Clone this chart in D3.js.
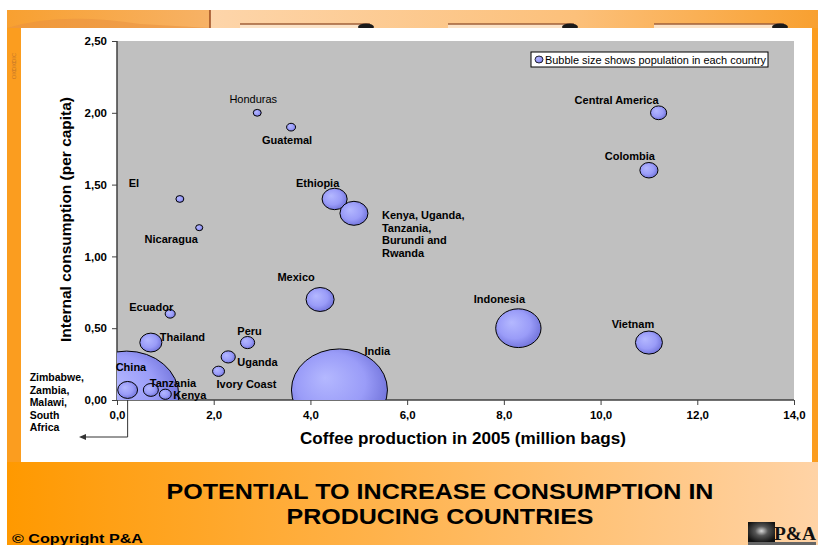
<!DOCTYPE html>
<html><head><meta charset="utf-8">
<script src="https://cdn.jsdelivr.net/npm/d3@7/dist/d3.min.js"></script>
<style>html,body{margin:0;padding:0;background:#fff;}svg{display:block;}</style>
</head><body>
<script>
// ---- DATA ----
const countries = ["Honduras","Guatemala","Central America","Colombia","El Salvador","Nicaragua","Ethiopia","Kenya, Uganda, Tanzania, Burundi and Rwanda","Mexico","Indonesia","Vietnam","Ecuador","Thailand","Peru","Uganda","Ivory Coast","India","China","Zimbabwe, Zambia, Malawi, South Africa","Tanzania","Kenya"];
const labels = ["Honduras","Guatemal","Central America","Colombia","El","Nicaragua","Ethiopia","Kenya, Uganda,|Tanzania,|Burundi and|Rwanda","Mexico","Indonesia","Vietnam","Ecuador","Thailand","Peru","Uganda","Ivory Coast","India","China","Zimbabwe,|Zambia,|Malawi,|South|Africa","Tanzania","Kenya"];
const production = [2.9,3.6,11.2,11.0,1.3,1.7,4.5,4.9,4.2,8.3,11.0,1.1,0.7,2.7,2.3,2.1,4.6,0.2,0.22,0.7,1.0];
const consumption = [2.0,1.9,2.0,1.6,1.4,1.2,1.4,1.3,0.7,0.5,0.4,0.6,0.4,0.4,0.3,0.2,0.07,0.03,0.07,0.07,0.04];
const population = [7.6,9.7,31,39,7.5,6,75,94,94,245,87,12,58,24,24,17,1100,1300,47,27,17];
const xTicks = [0,2,4,6,8,10,12,14];
const yTicks = [0,0.5,1,1.5,2,2.5];
const title = ["POTENTIAL TO INCREASE CONSUMPTION IN","PRODUCING COUNTRIES"];
const legendText = "Bubble size shows population in each country";
const xTitle = "Coffee production in 2005 (million bags)";
const yTitle = "Internal consumption  (per capita)";

// ---- LAYOUT (label placement relative to bubble centre) ----
const labelLayout = {
  "Honduras":[ -4,-10,"middle",false],
  "Guatemala":[-4,17,"middle",true],
  "Central America":[-42,-9,"middle",true],
  "Colombia":[-19,-10,"middle",true],
  "El Salvador":[-46,-12,"middle",true],
  "Nicaragua":[-28,15,"middle",true],
  "Ethiopia":[-17,-12,"middle",true],
  "Kenya, Uganda, Tanzania, Burundi and Rwanda":[28,6,"start",true],
  "Mexico":[-24,-18,"middle",true],
  "Indonesia":[-19,-25,"middle",true],
  "Vietnam":[-16,-15,"middle",true],
  "Ecuador":[-19,-3,"middle",true],
  "Thailand":[9,-2,"start",true],
  "Peru":[2,-8,"middle",true],
  "Uganda":[9,9,"start",true],
  "Ivory Coast":[-2,17,"start",true],
  "India":[25,-35,"start",true],
  "China":[-11,-25,"start",true],
  "Tanzania":[-1,-3,"start",true],
  "Kenya":[8,5,"start",true]
};

const W=818,H=545;
const svg=d3.select("body").append("svg").attr("width",W).attr("height",H)
  .style("font-family","'Liberation Sans', Arial, sans-serif");
const defs=svg.append("defs");

// background gradients
const gBot=defs.append("linearGradient").attr("id","gBot").attr("x1","0").attr("x2","1");
gBot.append("stop").attr("offset","0").attr("stop-color","#FF9900");
gBot.append("stop").attr("offset","0.45").attr("stop-color","#FFB24A");
gBot.append("stop").attr("offset","1").attr("stop-color","#FFD3A6");
const gTop=defs.append("linearGradient").attr("id","gTop").attr("x1","0").attr("x2","1");
gTop.append("stop").attr("offset","0").attr("stop-color","#FDD5AA");
gTop.append("stop").attr("offset","0.6").attr("stop-color","#FCC07A");
gTop.append("stop").attr("offset","1").attr("stop-color","#F8A030");
const gTL=defs.append("linearGradient").attr("id","gTL").attr("x1","0").attr("x2","1");
gTL.append("stop").attr("offset","0").attr("stop-color","#F8A030");
gTL.append("stop").attr("offset","1").attr("stop-color","#F7B266");

// bubble gradient
const bg=defs.append("radialGradient").attr("id","bub").attr("cx","0.45").attr("cy","0.45").attr("r","0.6").attr("fx","0.35").attr("fy","0.35");
bg.append("stop").attr("offset","0").attr("stop-color","#B4B8FF");
bg.append("stop").attr("offset","0.6").attr("stop-color","#9A9CF8");
bg.append("stop").attr("offset","1").attr("stop-color","#6E70D8");

// background
svg.append("rect").attr("x",7).attr("y",10).attr("width",W-7).attr("height",H-10).attr("fill","#FB9D1F");
svg.append("rect").attr("x",7).attr("y",10).attr("width",203).attr("height",18).attr("fill","url(#gTL)");
svg.append("path").attr("d","M7,28 Q60,12 140,24 L210,28 Z").attr("fill","#E89040").attr("opacity",0.5);
svg.append("rect").attr("x",210).attr("y",10).attr("width",W-210).attr("height",18).attr("fill","url(#gTop)");
svg.append("line").attr("x1",210).attr("x2",210).attr("y1",10).attr("y2",28).attr("stroke","#9A4A20").attr("stroke-width",1.5);
[[240,370],[448,574],[654,784]].forEach(t=>{
  svg.append("rect").attr("x",t[0]).attr("y",24).attr("width",t[1]-t[0]).attr("height",4).attr("fill","#FBE3C8");
  svg.append("line").attr("x1",t[0]).attr("x2",t[1]).attr("y1",24).attr("y2",24).attr("stroke","#A0603A").attr("stroke-width",1.5);
  svg.append("ellipse").attr("cx",t[1]-4).attr("cy",27).attr("rx",8).attr("ry",3.5).attr("fill","#1a1a1a");
});
svg.append("rect").attr("x",7).attr("y",462).attr("width",W-7).attr("height",H-462).attr("fill","url(#gBot)");
// faint side marks
[58,66,74].forEach(yy=>svg.append("text").attr("transform",`translate(16,${yy}) rotate(-90)`).attr("font-size",6).attr("fill","#C8782A").attr("text-anchor","middle").text("OIC"));

// white panel
svg.append("rect").attr("x",21).attr("y",28).attr("width",791).attr("height",434).attr("fill","#fff");

// scales
const x=d3.scaleLinear().domain([0,14]).range([117,794]);
const y=d3.scaleLinear().domain([0,2.5]).range([400,41]);
const r=d3.scaleSqrt().domain([0,1300]).range([0,44.6]);
const stretch=1.17;
const loc=d3.formatLocale({decimal:",",thousands:".",grouping:[3],currency:["",""]});

// plot area
svg.append("rect").attr("x",x(0)).attr("y",y(2.5)).attr("width",x(14)-x(0)).attr("height",y(0)-y(2.5)).attr("fill","#C0C0C0");
defs.append("clipPath").attr("id","clip").append("rect").attr("x",x(0)).attr("y",y(2.5)).attr("width",x(14)-x(0)).attr("height",y(0)-y(2.5));

// axes
const ax=svg.append("g").attr("transform",`translate(0,${y(0)})`).call(d3.axisBottom(x).tickValues(xTicks).tickSize(5).tickPadding(6).tickFormat(loc.format(".1f")));
const ay=svg.append("g").attr("transform",`translate(${x(0)},0)`).call(d3.axisLeft(y).tickValues(yTicks).tickSize(5).tickPadding(5).tickFormat(loc.format(".2f")));
[ax,ay].forEach(a=>{
  a.select(".domain").attr("stroke","#404040").attr("stroke-width",1.5);
  a.selectAll(".tick line").attr("stroke","#404040");
  a.selectAll(".tick text").attr("font-size",11.5).attr("font-weight","bold").attr("fill","#000").style("font-family","'Liberation Sans', Arial, sans-serif");
});
ax.select(".domain").attr("d",`M${x(0)},0H${x(14)}`);
ay.select(".domain").attr("d",`M0,${y(0)}V${y(2.5)}`);

// axis titles
svg.append("text").attr("x",463).attr("y",444).attr("text-anchor","middle").attr("font-size",17).attr("font-weight","bold")
  .attr("textLength",326).attr("lengthAdjust","spacingAndGlyphs").text(xTitle);
svg.append("text").attr("transform",`translate(71,219.5) rotate(-90)`).attr("text-anchor","middle").attr("font-size",15).attr("font-weight","bold")
  .attr("textLength",245).attr("lengthAdjust","spacingAndGlyphs").text(yTitle);

// data rows
const data=countries.map((c,i)=>({c,label:labels[i],x:production[i],y:consumption[i],p:population[i]}));

// arrow for southern Africa group
const sa=data.find(d=>d.c.startsWith("Zimbabwe"));
svg.append("path").attr("d",`M${x(sa.x)},${y(0)}V437H84`).attr("fill","none").attr("stroke","#333").attr("stroke-width",1);
svg.append("path").attr("d","M79,437 L86,434 L86,440 Z").attr("fill","#333");

// bubbles
const gB=svg.append("g").attr("clip-path","url(#clip)");
gB.selectAll("ellipse").data(data).join("ellipse")
  .attr("cx",d=>x(d.x)).attr("cy",d=>y(d.y))
  .attr("rx",d=>r(d.p)*stretch).attr("ry",d=>r(d.p))
  .attr("fill","url(#bub)").attr("stroke","#000").attr("stroke-width",1);

// labels
const gL=svg.append("g");
data.forEach(d=>{
  let lay=labelLayout[d.c];
  const lines=d.label.split("|");
  let anchor, dx, dy, bold=true, lh=12.4;
  if(d.c.startsWith("Zimbabwe")){ dx=-98; dy=-9; anchor="start"; lh=12.6; }
  else { [dx,dy,anchor,bold]=lay; }
  const t=gL.append("text").attr("x",x(d.x)+dx).attr("y",y(d.y)+dy)
    .attr("text-anchor",anchor).attr("font-size",d.c.startsWith("Zimbabwe")?10.5:11).attr("font-weight",bold?"bold":"normal").attr("fill","#000");
  lines.forEach((l,k)=>t.append("tspan").attr("x",x(d.x)+dx).attr("dy",k?lh:0).text(l));
});

// legend
svg.append("rect").attr("x",531).attr("y",52).attr("width",237).attr("height",15).attr("fill","#fff").attr("stroke","#000").attr("stroke-width",1);
svg.append("ellipse").attr("cx",539).attr("cy",59.5).attr("rx",4).attr("ry",3.5).attr("fill","url(#bub)").attr("stroke","#000").attr("stroke-width",0.8);
svg.append("text").attr("x",545).attr("y",63.5).attr("font-size",11).attr("textLength",221).attr("lengthAdjust","spacingAndGlyphs").text(legendText);

// title
svg.append("text").attr("x",440).attr("y",499).attr("text-anchor","middle").attr("font-size",22).attr("font-weight","bold")
  .style("font-family","'Liberation Sans Narrow', 'Arial Narrow', 'Liberation Sans', sans-serif")
  .attr("textLength",547).attr("lengthAdjust","spacingAndGlyphs").text(title[0]);
svg.append("text").attr("x",440).attr("y",524).attr("text-anchor","middle").attr("font-size",22).attr("font-weight","bold")
  .style("font-family","'Liberation Sans Narrow', 'Arial Narrow', 'Liberation Sans', sans-serif")
  .attr("textLength",307).attr("lengthAdjust","spacingAndGlyphs").text(title[1]);
svg.append("text").attr("x",12).attr("y",543).attr("font-size",13).attr("font-weight","bold")
  .attr("textLength",131).attr("lengthAdjust","spacingAndGlyphs").text("© Copyright P&A");

// logo
const lg=defs.append("radialGradient").attr("id","logo").attr("cx","0.5").attr("cy","0.45").attr("r","0.6");
lg.append("stop").attr("offset","0").attr("stop-color","#d8d8d8");
lg.append("stop").attr("offset","0.4").attr("stop-color","#555");
lg.append("stop").attr("offset","1").attr("stop-color","#111");
svg.append("rect").attr("x",748).attr("y",522).attr("width",27).attr("height",20).attr("fill","url(#logo)");
svg.append("text").attr("x",774).attr("y",540).attr("font-size",19).attr("font-weight","bold").attr("fill","#111")
  .style("font-family","'Liberation Serif', serif").attr("textLength",42).attr("lengthAdjust","spacingAndGlyphs").text("P&A");
svg.append("rect").attr("x",748).attr("y",542).attr("width",68).attr("height",3).attr("fill","#666");
</script>
</body></html>
